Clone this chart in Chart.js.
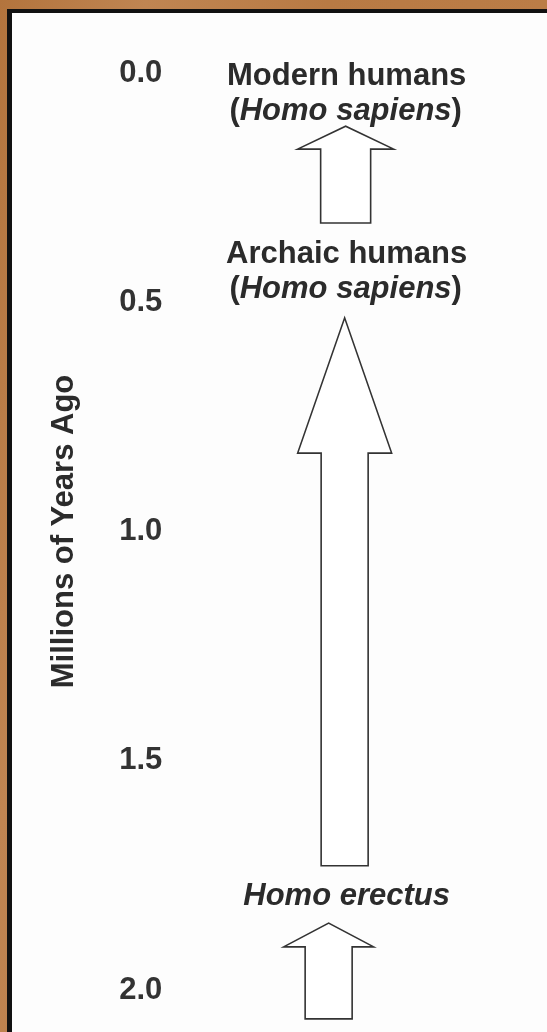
<!DOCTYPE html>
<html>
<head>
<meta charset="utf-8">
<script src="https://cdn.jsdelivr.net/npm/chart.js@4.4.1/dist/chart.umd.min.js"></script>
<style>
  html, body { margin: 0; padding: 0; }
  body {
    width: 547px; height: 1032px; overflow: hidden; position: relative;
    background: linear-gradient(100deg, #b3743d 0%, #c08552 20%, #b87a44 45%, #bb7d47 75%, #b5763f 100%);
  }
  .panel {
    position: absolute; left: 7px; top: 9px; right: -20px; bottom: -20px;
    border-left: 5px solid #111; border-top: 4px solid #111;
    background: #fdfdfd;
  }
  #chart { position: absolute; left: 0; top: 0; }
</style>
</head>
<body>
<div class="panel"></div>
<canvas id="chart" width="547" height="1032"></canvas>
<script>
// Ages in millions of years ago
const ageTicks = [0.0, 0.5, 1.0, 1.5, 2.0];

const stageNames = ['Modern humans', 'Archaic humans', 'Homo erectus'];
const stageSpecies = ['Homo sapiens', 'Homo sapiens', null];
const stageAges = [0.0, 0.39, 1.79];

// arrows: tail (bottom), neck (where head starts), tip
const arrowTail = [0.327, 1.729, 2.063];
const arrowNeck = [0.166, 0.829, 1.906];
const arrowTip = [0.116, 0.534, 1.854];

// drawing style
const ink = '#2b2b2b';
const fontFamily = '"Liberation Sans", Arial, Helvetica, sans-serif';
const labelSize = 31;
const arrowShift = [0, -1, -17];
const shaftHalf = [25, 23.5, 23.5];
const headHalf = [48, 47, 45];
const italicName = [false, false, true];
const lineGap = 35;
const textNudge = 3;

const drawArrows = (chart) => {
  const { ctx, chartArea, scales: { y } } = chart;
  const cx = (chartArea.left + chartArea.right) / 2;
  ctx.save();
  ctx.strokeStyle = '#333';
  ctx.fillStyle = '#fff';
  ctx.lineWidth = 1.6;
  ctx.lineJoin = 'miter';
  arrowTail.forEach((tail, i) => {
    const x = cx + arrowShift[i];
    const yTail = y.getPixelForValue(tail);
    const yNeck = y.getPixelForValue(arrowNeck[i]);
    const yTip = y.getPixelForValue(arrowTip[i]);
    const s = shaftHalf[i], h = headHalf[i];
    ctx.beginPath();
    ctx.moveTo(x - s, yTail);
    ctx.lineTo(x - s, yNeck);
    ctx.lineTo(x - h, yNeck);
    ctx.lineTo(x, yTip);
    ctx.lineTo(x + h, yNeck);
    ctx.lineTo(x + s, yNeck);
    ctx.lineTo(x + s, yTail);
    ctx.closePath();
    ctx.fill();
    ctx.stroke();
  });
  ctx.restore();
}

const setFont = (ctx, italic) => {
  ctx.font = (italic ? 'italic ' : '') + 'bold ' + labelSize + 'px ' + fontFamily;
}

const drawMixed = (ctx, parts, cx, cy) => {
  // parts: [text, italic]
  const widths = parts.map(p => {
    setFont(ctx, p[1]);
    return ctx.measureText(p[0]).width;
  });
  let x = cx - widths.reduce((a, b) => a + b, 0) / 2;
  parts.forEach((p, i) => {
    setFont(ctx, p[1]);
    ctx.fillText(p[0], x, cy);
    x += widths[i];
  });
}

const drawLabels = (chart) => {
  const { ctx, chartArea, scales: { y } } = chart;
  const cx = (chartArea.left + chartArea.right) / 2;
  ctx.save();
  ctx.fillStyle = ink;
  ctx.textAlign = 'left';
  ctx.textBaseline = 'middle';
  stageNames.forEach((name, i) => {
    const cy = y.getPixelForValue(stageAges[i]) + textNudge;
    drawMixed(ctx, [[name, italicName[i]]], cx + 1, cy);
    if (stageSpecies[i]) {
      drawMixed(ctx, [['(', false], [stageSpecies[i], true], [')', false]], cx, cy + lineGap);
    }
  });
  ctx.restore();
}

const evolutionPlugin = {
  id: 'evolution',
  afterDatasetsDraw(chart) {
    drawArrows(chart);
    drawLabels(chart);
  }
};

new Chart(document.getElementById('chart'), {
  type: 'scatter',
  data: { datasets: [{ data: [] }] },
  options: {
    responsive: false,
    animation: false,
    layout: { padding: { top: 73, bottom: 42, left: 42, right: 28 } },
    plugins: { legend: { display: false }, tooltip: { enabled: false } },
    scales: {
      x: { type: 'linear', display: false, min: 0, max: 1 },
      y: {
        type: 'linear',
        reverse: true,
        min: 0,
        max: 2,
        afterBuildTicks: (scale) => { scale.ticks = ageTicks.map(v => ({ value: v })); },
        grid: { display: false, drawTicks: false },
        border: { display: false },
        ticks: {
          color: '#333',
          padding: 10,
          font: { family: fontFamily, size: 31, weight: 'bold' },
          callback: (v) => Number(v).toFixed(1)
        },
        title: {
          display: true,
          text: 'Millions of Years Ago',
          color: ink,
          padding: { top: 4, bottom: 26 },
          font: { family: fontFamily, size: 31, weight: 'bold' }
        }
      }
    }
  },
  plugins: [evolutionPlugin]
});
</script>
</body>
</html>
